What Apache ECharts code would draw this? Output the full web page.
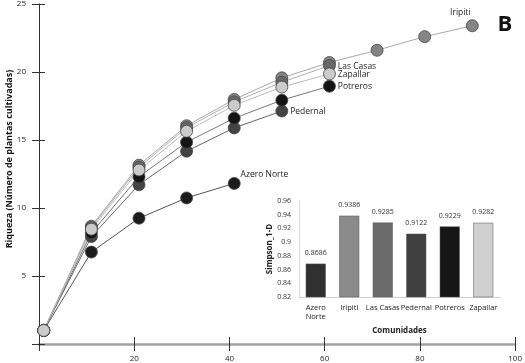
<!DOCTYPE html>
<html><head><meta charset="utf-8">
<script src="https://cdn.jsdelivr.net/npm/echarts@6/dist/echarts.min.js"></script>
<style>html,body{margin:0;padding:0;background:#fff}#c{width:525px;height:363px}</style>
</head><body><div id="c"></div>
<script>
// Sample-size (x) values
const xVals = [1, 11, 21, 31, 41, 51, 61, 71, 81, 91];
// Rarefaction richness per community
const iripiti  = [1, 8.66, 13.15, 16.05, 17.98, 19.57, 20.70, 21.60, 22.60, 23.40];
const lasCasas = [1, 8.56, 13.00, 15.90, 17.80, 19.25, 20.47];
const zapallar = [1, 8.44, 12.79, 15.64, 17.55, 18.89, 19.86];
const potreros = [1, 8.18, 12.30, 14.84, 16.60, 17.93, 18.96];
const pedernal = [1, 7.90, 11.71, 14.18, 15.89, 17.13];
const azeroNorte = [1, 6.76, 9.25, 10.74, 11.81];
// Inset: Simpson 1-D
const communities = ['Azero\nNorte', 'Iripiti', 'Las Casas', 'Pedernal', 'Potreros', 'Zapallar'];
const simpson = [0.8686, 0.9386, 0.9285, 0.9122, 0.9229, 0.9282];
const simpsonLabels = ['0.8686', '0.9386', '0.9285', '0.9122', '0.9229', '0.9282'];
const yTicksMain = [5, 10, 15, 20, 25];
const xTicksMain = [20, 40, 60, 80, 100];

const FONT = '"Open Sans", "DejaVu Sans", sans-serif';
const chart = echarts.init(document.getElementById('c'), null, {renderer: 'canvas'});

function mkSeries(name, ys, fill, lineColor, labelCfg) {
  const data = ys.map((y, i) => {
    const d = {value: [xVals[i], y]};
    if (i === ys.length - 1 && labelCfg) d.label = Object.assign({show: true, formatter: name, fontFamily: FONT, fontSize: 8.5, color: '#222'}, labelCfg);
    return d;
  });
  return {
    name, type: 'line', xAxisIndex: 0, yAxisIndex: 0, data,
    symbol: 'circle', symbolSize: 12,
    lineStyle: {color: lineColor, width: 1},
    itemStyle: {color: fill, borderColor: '#444', borderWidth: 0.8},
    label: {show: false}, animation: false, z: 3
  };
}

const barColors = ['#303030', '#8a8a8a', '#6b6b6b', '#404040', '#161616', '#cfcfcf'];

const option = {
  animation: false,
  backgroundColor: '#fff',
  grid: [
    {left: 39, top: 3, width: 479, height: 341},
    {left: 299, top: 201, width: 201, height: 96}
  ],
  xAxis: [
    {gridIndex: 0, type: 'value', min: 0, max: 100, interval: 20,
     axisLine: {lineStyle: {color: '#a3a3a3', width: 2.5}},
     axisTick: {show: true, length: 7, lineStyle: {color: '#333', width: 1}},
     axisLabel: {fontFamily: FONT, fontSize: 8, color: '#222', margin: 11,
       formatter: v => xTicksMain.includes(v) ? String(v) : ''},
     splitLine: {show: false}},
    {gridIndex: 0, type: 'value', min: 0, max: 100, interval: 20, position: 'bottom',
     axisLine: {show: false},
     axisTick: {show: true, inside: true, length: 7, lineStyle: {color: '#333', width: 1}},
     axisLabel: {show: false}, splitLine: {show: false}},
    {gridIndex: 1, type: 'category', data: communities,
     axisLine: {lineStyle: {color: '#cfcfcf', width: 1}},
     axisTick: {show: false},
     axisLabel: {fontFamily: FONT, fontSize: 7.5, color: '#222', margin: 6, lineHeight: 9.5, interval: 0},
     name: 'Comunidades', nameLocation: 'middle', nameGap: 30,
     nameTextStyle: {fontFamily: FONT, fontSize: 8, fontWeight: 'bold', color: '#222'}}
  ],
  yAxis: [
    {gridIndex: 0, type: 'value', min: 0, max: 25, interval: 5,
     axisLine: {show: true, lineStyle: {color: '#333', width: 1}},
     axisTick: {show: true, length: 7, lineStyle: {color: '#333', width: 1}},
     axisLabel: {fontFamily: FONT, fontSize: 8, color: '#222', margin: 13,
       formatter: v => yTicksMain.includes(v) ? String(v) : ''},
     splitLine: {show: false}},
    {gridIndex: 0, type: 'value', min: 0, max: 25, interval: 5, position: 'left',
     axisLine: {show: false},
     axisTick: {show: true, inside: true, length: 6, lineStyle: {color: '#333', width: 1}},
     axisLabel: {show: false}, splitLine: {show: false}},
    {gridIndex: 1, type: 'value', min: 0.82, max: 0.96, interval: 0.02,
     axisLine: {show: true, lineStyle: {color: '#dddddd', width: 1}},
     axisTick: {show: false},
     axisLabel: {fontFamily: FONT, fontSize: 7, color: '#333', margin: 8,
       formatter: v => String(+v.toFixed(2))},
     splitLine: {show: false},
     name: 'Simpson_1-D', nameLocation: 'middle', nameGap: 23, nameRotate: 90,
     nameTextStyle: {fontFamily: FONT, fontSize: 8, fontWeight: 'bold', color: '#222'}}
  ],
  series: [
    mkSeries('Iripiti', iripiti, '#858585', '#a8a8a8', {position: 'top', offset: [-12, 0], distance: 2}),
    mkSeries('Las Casas', lasCasas, '#686868', '#b0b0b0', {position: 'right', distance: 2, offset: [0, 1]}),
    mkSeries('Pedernal', pedernal, '#434343', '#666666', {position: 'right', distance: 2, offset: [0, 1]}),
    mkSeries('Potreros', potreros, '#141414', '#777777', {position: 'right', distance: 2, offset: [0, 0]}),
    mkSeries('Azero Norte', azeroNorte, '#1c1c1c', '#555555', {position: 'right', distance: 0, offset: [0, -9]}),
    mkSeries('Zapallar', zapallar, '#cbcbcb', '#bcbcbc', {position: 'right', distance: 2, offset: [0, 1]}),
    {type: 'bar', xAxisIndex: 2, yAxisIndex: 2, barWidth: 20,
     data: simpson.map((v, i) => ({value: v, itemStyle: {color: barColors[i], borderColor: '#555', borderWidth: 0.5}})),
     label: {show: true, position: 'top', distance: 7, fontFamily: FONT, fontSize: 7, color: '#333',
       formatter: p => simpsonLabels[p.dataIndex]},
     z: 5}
  ],
  graphic: [
    {type: 'text', x: 9, y: 159, rotation: Math.PI / 2,
     style: {text: 'Riqueza (Número de plantas cultivadas)', font: 'bold 9px ' + FONT, fill: '#111',
       textAlign: 'center', textVerticalAlign: 'middle'}},
    {type: 'text', x: 505, y: 25,
     style: {text: 'B', font: 'bold 22px ' + FONT, fill: '#111', textAlign: 'center', textVerticalAlign: 'middle'}}
  ]
};
chart.setOption(option);
</script></body></html>
